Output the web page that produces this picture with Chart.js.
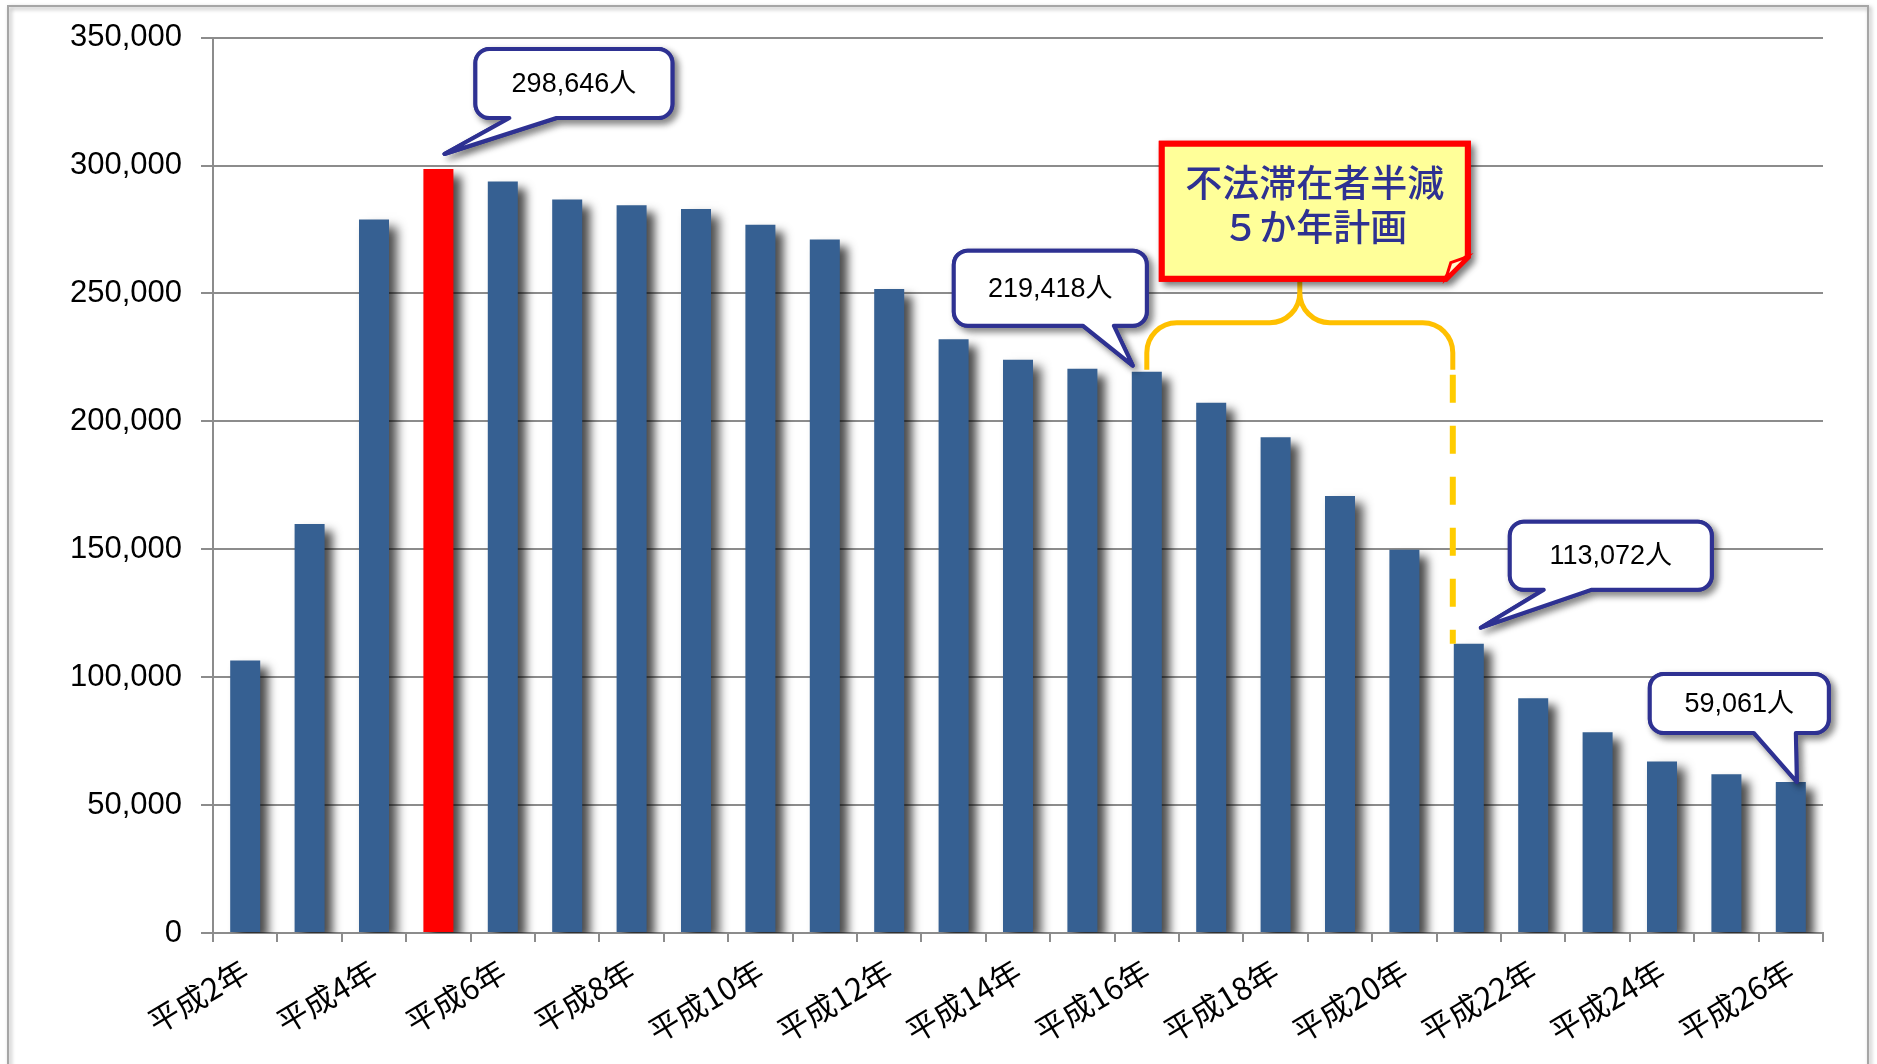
<!DOCTYPE html>
<html lang="ja">
<head>
<meta charset="utf-8">
<title>不法残留者数の推移</title>
<script src="https://cdn.jsdelivr.net/npm/chart.js@4.4.1/dist/chart.umd.min.js"></script>
<style>
  html, body { margin: 0; padding: 0; background: #fff; }
  #wrap { width: 1877px; height: 1064px; }
</style>
</head>
<body>
<div id="wrap"><canvas id="overstayChart" width="1877" height="1064"></canvas></div>
<script>
// === DATA ===
const years = [
  "平成2年", "平成3年", "平成4年", "平成5年", "平成6年", "平成7年", "平成8年",
  "平成9年", "平成10年", "平成11年", "平成12年", "平成13年", "平成14年", "平成15年",
  "平成16年", "平成17年", "平成18年", "平成19年", "平成20年", "平成21年", "平成22年",
  "平成23年", "平成24年", "平成25年", "平成26年"
];
const persons = [
  106497, 159828, 278892, 298646, 293800, 286704, 284500,
  282986, 276810, 271048, 251697, 232121, 224067, 220552,
  219418, 207299, 193745, 170839, 149785, 113072, 91778,
  78488, 67065, 62009, 59061
];
const yTicks = [0, 50000, 100000, 150000, 200000, 250000, 300000, 350000];
const calloutYears = ["平成5年", "平成16年", "平成21年", "平成26年"];
const planTitle = ["不法滞在者半減", "５か年計画"];
const planStart = "平成16年";
const planEnd = "平成21年";

// === STYLE ===
const BLUE = "#366092";
const RED = "#ff0000";
const AXIS_GRAY = "#8c8c8c";
const NAVY = "#2e3192";
const GOLD = "#ffc000";
const peakIndex = persons.indexOf(Math.max(...persons));

// box = [left, right, top, bottom], base = pointer foot, tip = pointer end (px from bar top centre)
const calloutShapes = [
  { box: [37, 234, -120, -51], base: [71, 118], tip: [6, -15] },
  { box: [-193, 0, -121, -46], base: [-64, -33], tip: [-14, -6] },
  { box: [41, 243, -122, -54], base: [75, 123], tip: [12, -16] },
  { box: [-141, 38, -108, -49], base: [-37, 5], tip: [6, 0] }
];

const fmt = v => v.toLocaleString("en-US");

// white page + grey frame
const pageFrame = {
  id: "pageFrame",
  beforeDraw(chart) {
    const ctx = chart.ctx;
    ctx.save();
    ctx.fillStyle = "#fff";
    ctx.fillRect(0, 0, chart.width, chart.height);
    ctx.shadowColor = "rgba(0,0,0,0.35)";
    ctx.shadowBlur = 4;
    ctx.shadowOffsetX = 2;
    ctx.shadowOffsetY = 2;
    ctx.strokeStyle = "#a6a6a6";
    ctx.lineWidth = 2;
    ctx.strokeRect(8, 6, 1860, 1080);
    ctx.restore();
  }
};

// soft drop shadow behind the bars
const barShadow = {
  id: "barShadow",
  beforeDatasetDraw(chart) {
    const ctx = chart.ctx;
    ctx.save();
    ctx.shadowColor = "rgba(0,0,0,0.7)";
    ctx.shadowBlur = 10;
    ctx.shadowOffsetX = 8;
    ctx.shadowOffsetY = 7;
  },
  afterDatasetDraw(chart) {
    chart.ctx.restore();
  }
};

function calloutPath(ctx, l, r, t, b, bl, br, tx, ty, rad) {
  ctx.beginPath();
  ctx.moveTo(l + rad, t);
  ctx.lineTo(r - rad, t);
  ctx.arcTo(r, t, r, t + rad, rad);
  ctx.lineTo(r, b - rad);
  ctx.arcTo(r, b, r - rad, b, rad);
  ctx.lineTo(br, b);
  ctx.lineTo(tx, ty);
  ctx.lineTo(bl, b);
  ctx.lineTo(l + rad, b);
  ctx.arcTo(l, b, l, b - rad, rad);
  ctx.lineTo(l, t + rad);
  ctx.arcTo(l, t, l + rad, t, rad);
  ctx.closePath();
}

function withShadow(ctx, draw) {
  ctx.save();
  ctx.shadowColor = "rgba(0,0,0,0.45)";
  ctx.shadowBlur = 7;
  ctx.shadowOffsetX = 4;
  ctx.shadowOffsetY = 4;
  draw();
  ctx.restore();
  draw();
}

// value callouts, the plan brace and the plan label
const annotations = {
  id: "annotations",
  afterDraw(chart) {
    const ctx = chart.ctx;
    const bars = chart.getDatasetMeta(0).data;
    const y = chart.scales.y;

    // brace over the plan period + dashed drop to the end year
    const s = years.indexOf(planStart);
    const e = years.indexOf(planEnd);
    const x0 = bars[s].x;
    const x1 = bars[e].x - bars[e].width / 2 - 1;
    const y0 = y.getPixelForValue(persons[s]);
    const yh = y0 - 49;
    const yp = y0 - 91;
    const xm = (x0 + x1) / 2;
    const r = 30;
    ctx.save();
    ctx.strokeStyle = GOLD;
    ctx.lineWidth = 5;
    ctx.lineCap = "butt";
    ctx.beginPath();
    ctx.moveTo(x0, y0 - 2);
    ctx.lineTo(x0, yh + r);
    ctx.arcTo(x0, yh, x0 + r, yh, r);
    ctx.lineTo(xm - r, yh);
    ctx.arcTo(xm, yh, xm, yh - r, r);
    ctx.lineTo(xm, yp);
    ctx.moveTo(x1, y0 - 2);
    ctx.lineTo(x1, yh + r);
    ctx.arcTo(x1, yh, x1 - r, yh, r);
    ctx.lineTo(xm + r, yh);
    ctx.arcTo(xm, yh, xm, yh - r, r);
    ctx.lineTo(xm, yp);
    ctx.stroke();

    ctx.strokeStyle = "#ffcc00";
    ctx.lineWidth = 6;
    ctx.setLineDash([28, 23]);
    ctx.beginPath();
    ctx.moveTo(x1, y0 + 3);
    ctx.lineTo(x1, y.getPixelForValue(persons[e]));
    ctx.stroke();
    ctx.restore();

    // plan label box with folded corner
    const bl = xm - 138, br = xm + 168, bt = y0 - 228, bb = y0 - 93, d = 22;
    ctx.save();
    ctx.lineJoin = "miter";
    const note = () => {
      ctx.beginPath();
      ctx.moveTo(bl, bt);
      ctx.lineTo(br, bt);
      ctx.lineTo(br, bb - d);
      ctx.lineTo(br - d, bb);
      ctx.lineTo(bl, bb);
      ctx.closePath();
      ctx.fillStyle = "#ffff99";
      ctx.fill();
      ctx.strokeStyle = RED;
      ctx.lineWidth = 6;
      ctx.stroke();
    };
    withShadow(ctx, note);
    ctx.beginPath();
    ctx.moveTo(br - d, bb);
    ctx.lineTo(br - d + 5, bb - d + 6);
    ctx.lineTo(br, bb - d);
    ctx.closePath();
    ctx.fillStyle = "#fffbd0";
    ctx.fill();
    ctx.lineWidth = 3;
    ctx.strokeStyle = RED;
    ctx.stroke();
    ctx.fillStyle = NAVY;
    ctx.font = '500 37px "Noto Sans CJK JP"';
    ctx.textAlign = "center";
    ctx.textBaseline = "middle";
    const cx = (bl + br) / 2;
    ctx.fillText(planTitle[0], cx, bt + 39);
    ctx.fillText(planTitle[1], cx, bt + 83);
    ctx.restore();

    // value callouts
    calloutYears.forEach((label, k) => {
      const i = years.indexOf(label);
      const bx = bars[i].x;
      const by = y.getPixelForValue(persons[i]);
      const c = calloutShapes[k];
      const l = bx + c.box[0], rr = bx + c.box[1], t = by + c.box[2], b = by + c.box[3];
      ctx.save();
      ctx.lineJoin = "round";
      const shape = () => {
        calloutPath(ctx, l, rr, t, b, bx + c.base[0], bx + c.base[1], bx + c.tip[0], by + c.tip[1], 14);
        ctx.fillStyle = "#fff";
        ctx.fill();
        ctx.strokeStyle = NAVY;
        ctx.lineWidth = 4;
        ctx.stroke();
      };
      withShadow(ctx, shape);
      ctx.fillStyle = "#000";
      ctx.font = '27px "Liberation Sans", "Noto Sans CJK JP"';
      ctx.textAlign = "center";
      ctx.textBaseline = "middle";
      ctx.fillText(fmt(persons[i]) + "人", (l + rr) / 2, (t + b) / 2 + 1);
      ctx.restore();
    });
  }
};

// === OVERSTAY CHART ===
const ctx = document.getElementById("overstayChart").getContext("2d");
new Chart(ctx, {
  type: "bar",
  data: {
    labels: years,
    datasets: [{
      data: persons,
      backgroundColor: persons.map((v, i) => i === peakIndex ? RED : BLUE),
      borderWidth: 0,
      categoryPercentage: 1,
      barPercentage: 0.466
    }]
  },
  options: {
    responsive: false,
    animation: false,
    layout: { padding: { top: 36, right: 54, bottom: 0, left: 0 } },
    plugins: {
      legend: { display: false },
      tooltip: { enabled: false }
    },
    scales: {
      x: {
        offset: true,
        grid: { offset: true, drawOnChartArea: false, color: AXIS_GRAY, lineWidth: 2, tickLength: 9 },
        border: { color: AXIS_GRAY, width: 2 },
        ticks: {
          autoSkip: false,
          minRotation: 31,
          maxRotation: 31,
          padding: 10,
          color: "#000",
          font: { family: '"Noto Sans CJK JP"', size: 31 },
          callback(v, i) { return i % 2 === 0 ? this.getLabelForValue(v) : ""; }
        },
        afterFit(scale) { scale.height = 131; }
      },
      y: {
        min: 0,
        max: 350000,
        afterBuildTicks(scale) { scale.ticks = yTicks.map(v => ({ value: v })); },
        grid: { color: AXIS_GRAY, lineWidth: 2, tickLength: 12 },
        border: { color: AXIS_GRAY, width: 2 },
        ticks: {
          padding: 19,
          color: "#000",
          font: { family: '"Liberation Sans"', size: 31 },
          callback: v => fmt(v)
        },
        afterFit(scale) { scale.width = 213; }
      }
    }
  },
  plugins: [pageFrame, barShadow, annotations]
});
</script>
</body>
</html>
